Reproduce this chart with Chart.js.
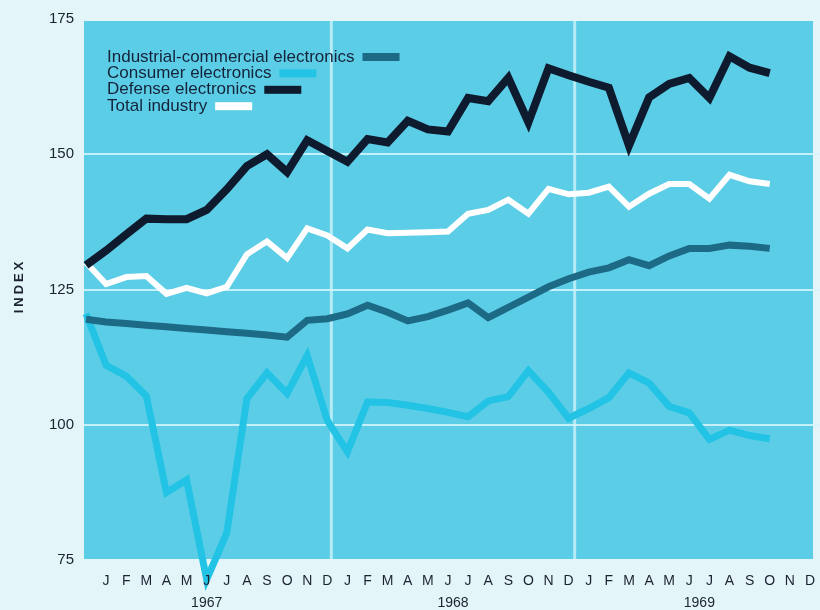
<!DOCTYPE html>
<html>
<head>
<meta charset="utf-8">
<title>Electronics production index 1967-1969</title>
<script src="https://cdn.jsdelivr.net/npm/chart.js@4.4.1/dist/chart.umd.min.js"></script>
<style>
  html, body { margin: 0; padding: 0; background: #e3f5f9; }
  #wrap { width: 820px; height: 610px; }
</style>
</head>
<body>
<div id="wrap"><canvas id="indexChart" width="820" height="610"></canvas></div>
<script>
// month letters under the plot, Jan 1967 .. Dec 1969
const monthLetters = ["J", "F", "M", "A", "M", "J", "J", "A", "S", "O", "N", "D"];
const years = ["1967", "1968", "1969"];
const yTicks = [75, 100, 125, 150, 175];

// monthly index values, first point sits just before the Jan 1967 label
const industrial = [119.5, 119.0, 118.7, 118.4, 118.1, 117.8, 117.5, 117.2, 116.9, 116.6, 116.2, 119.3,
  119.6, 120.5, 122.1, 120.8, 119.2, 120.0, 121.2, 122.5, 119.8, 121.7, 123.6, 125.5,
  127.0, 128.2, 129.0, 130.5, 129.4, 131.2, 132.6, 132.6, 133.2, 133.0, 132.6];
const consumer = [120.5, 111.0, 109.0, 105.3, 87.5, 89.8, 71.4, 80.0, 104.8, 109.6, 105.8, 112.8,
  100.8, 95.0, 104.2, 104.1, 103.6, 103.0, 102.3, 101.5, 104.4, 105.2, 110.0, 106.0,
  101.2, 103.0, 105.0, 109.6, 107.7, 103.4, 102.2, 97.3, 99.0, 98.0, 97.4];
const defense = [129.5, 132.2, 135.2, 138.1, 138.0, 138.0, 139.7, 143.5, 147.8, 150.0, 146.7, 152.6,
  150.6, 148.6, 152.8, 152.2, 156.2, 154.6, 154.2, 160.4, 159.8, 164.1, 155.9, 165.9,
  164.6, 163.4, 162.3, 151.6, 160.5, 163.0, 164.1, 160.4, 168.1, 166.0, 165.0];
const total = [130.0, 126.0, 127.3, 127.5, 124.2, 125.3, 124.3, 125.5, 131.5, 133.9, 130.8, 136.3,
  135.0, 132.6, 136.1, 135.4, 135.5, 135.6, 135.7, 139.0, 139.7, 141.6, 139.0, 143.6,
  142.6, 142.9, 144.0, 140.3, 142.7, 144.5, 144.5, 141.8, 146.2, 145.0, 144.5];

const months = years.flatMap(() => monthLetters);
const FONT = "'Liberation Sans', Arial, sans-serif";

const series = [
  { label: "Industrial-commercial electronics", data: industrial, color: "#1d6a86", width: 7 },
  { label: "Consumer electronics", data: consumer, color: "#22c3e5", width: 7 },
  { label: "Defense electronics", data: defense, color: "#0e1a2d", width: 8 },
  { label: "Total industry", data: total, color: "#ffffff", width: 6 },
];

// cyan panel, year dividers, legend, year labels and the INDEX title
const decor = {
  id: "decor",
  beforeDraw(chart) {
    const { ctx, chartArea: a } = chart;
    ctx.save();
    ctx.fillStyle = "#5ccde6";
    ctx.fillRect(a.left, a.top + 2, a.right - a.left - 7, a.bottom - a.top - 3);
    ctx.restore();
  },
  beforeDatasetsDraw(chart) {
    const { ctx, chartArea: a, scales } = chart;
    ctx.save();
    ctx.strokeStyle = "rgba(210,244,250,0.75)";
    ctx.lineWidth = 3;
    [12.2, 24.3].forEach((v) => {
      const x = scales.x.getPixelForValue(v);
      ctx.beginPath();
      ctx.moveTo(x, a.top + 2);
      ctx.lineTo(x, a.bottom - 1);
      ctx.stroke();
    });
    ctx.restore();
  },
  afterDraw(chart) {
    const { ctx, scales } = chart;
    ctx.save();

    // legend: text first, colour bar after it
    ctx.font = "17px " + FONT;
    ctx.textBaseline = "middle";
    ctx.textAlign = "left";
    series.forEach((s, i) => {
      const y = 57 + i * 16.4;
      ctx.fillStyle = "#14233a";
      ctx.fillText(s.label, 107, y);
      const w = ctx.measureText(s.label).width;
      ctx.fillStyle = s.color;
      ctx.fillRect(107 + w + 8, y - 4, 37, 8);
    });

    // years under the month letters
    ctx.fillStyle = "#1b2230";
    ctx.font = "14px " + FONT;
    ctx.textAlign = "center";
    years.forEach((yr, i) => {
      ctx.fillText(yr, scales.x.getPixelForValue(6.0 + 12.25 * i), 603);
    });

    // axis title
    ctx.translate(19, 286);
    ctx.rotate(-Math.PI / 2);
    ctx.font = "bold 13px " + FONT;
    ctx.letterSpacing = "3px";
    ctx.fillText("INDEX", 0, 0);
    ctx.restore();
  },
};

new Chart(document.getElementById("indexChart"), {
  type: "line",
  data: {
    datasets: series.map((s) => ({
      label: s.label,
      data: s.data.map((v, i) => ({ x: i, y: v })),
      borderColor: s.color,
      borderWidth: s.width,
      borderJoinStyle: "miter",
      pointRadius: 0,
      tension: 0,
      clip: false,
    })),
  },
  options: {
    responsive: false,
    animation: false,
    layout: { padding: { top: 16, right: 0, left: 0, bottom: 0 } },
    plugins: { legend: { display: false }, tooltip: { enabled: false } },
    scales: {
      x: {
        type: "linear",
        min: -0.1,
        max: 36.5,
        afterBuildTicks: (scale) => {
          scale.ticks = months.map((_, i) => ({ value: i + 1 }));
        },
        afterFit: (scale) => { scale.height = 50; },
        ticks: {
          z: 1, // month letters sit on top of the consumer dip
          autoSkip: false,
          maxRotation: 0,
          padding: 5,
          color: "#1b2230",
          font: { family: FONT, size: 14 },
          callback: (v) => months[v - 1],
        },
        grid: { display: false },
        border: { display: false },
      },
      y: {
        min: 75,
        max: 175,
        afterBuildTicks: (scale) => {
          scale.ticks = yTicks.map((v) => ({ value: v }));
        },
        afterFit: (scale) => { scale.width = 84; },
        ticks: {
          padding: 10,
          color: "#1b2230",
          font: { family: FONT, size: 15 },
        },
        grid: {
          drawTicks: false,
          lineWidth: 2,
          color: (c) => (c.tick && c.tick.value > 75 && c.tick.value < 175 ? "rgba(215,245,251,0.85)" : "rgba(0,0,0,0)"),
        },
        border: { display: false },
      },
    },
  },
  plugins: [decor],
});
</script>
</body>
</html>
